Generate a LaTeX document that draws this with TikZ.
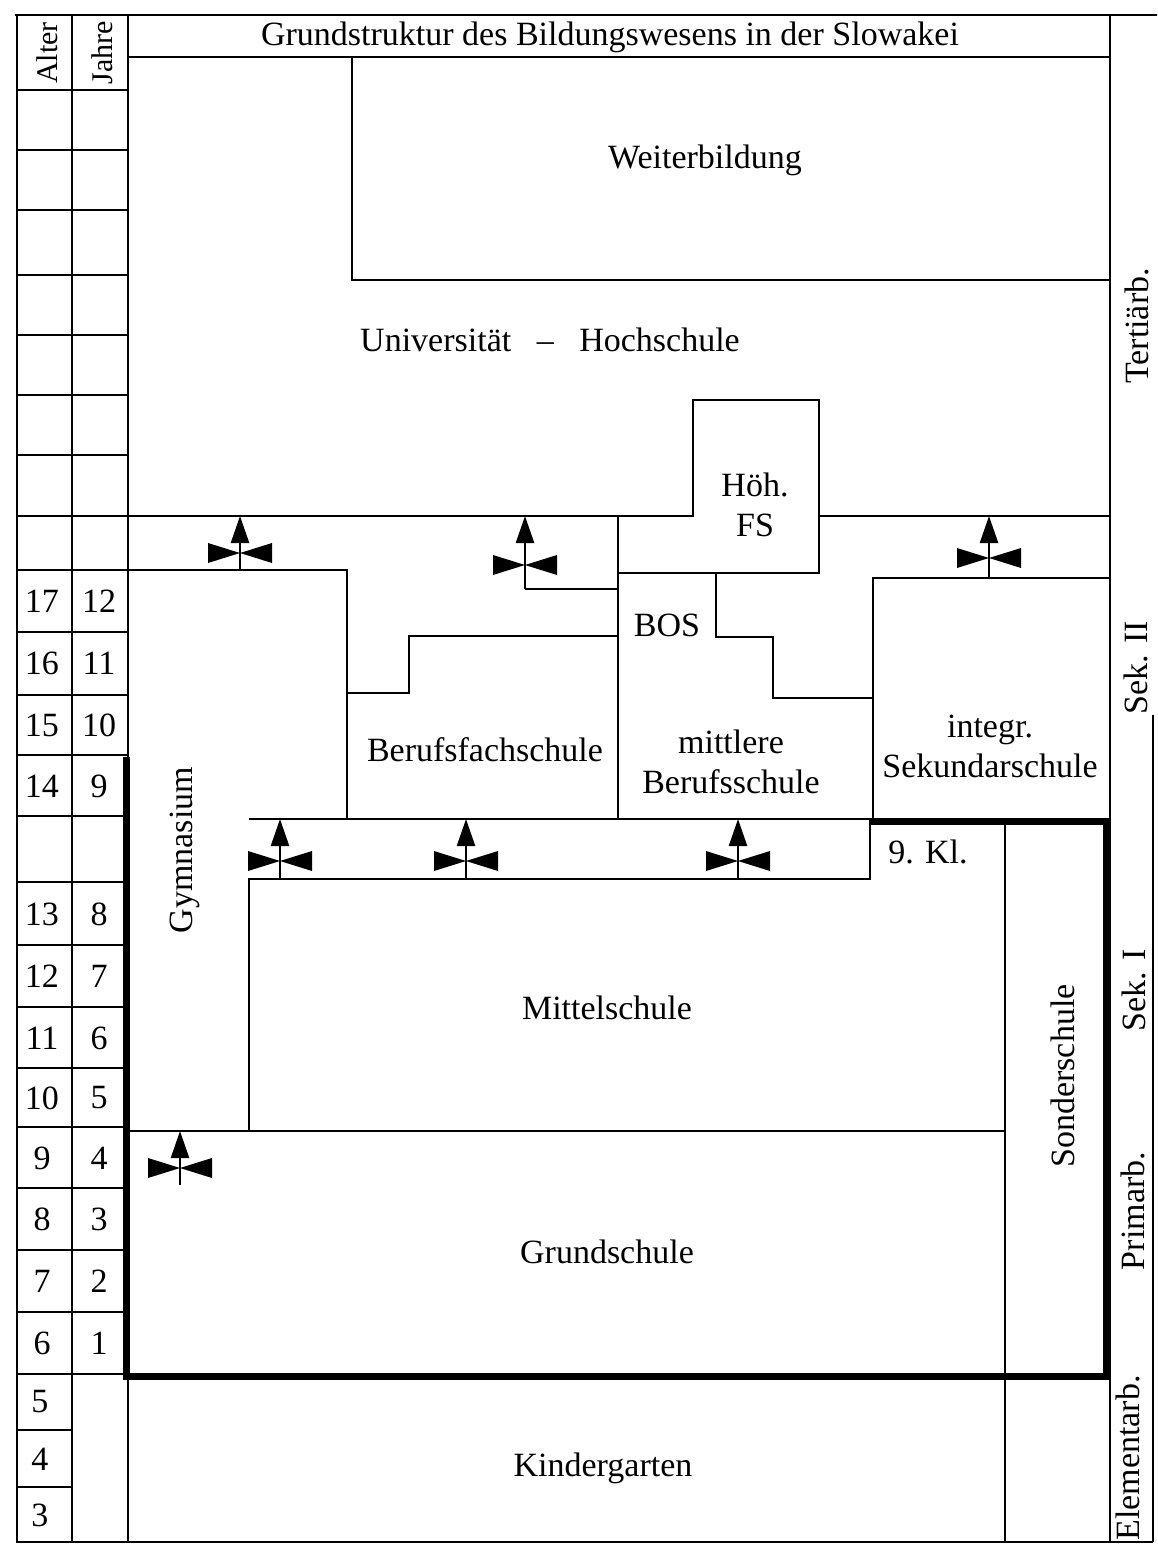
\documentclass[tikz,border=0pt]{standalone}
\usepackage{fontspec}
\setmainfont{Liberation Serif}
\usetikzlibrary{arrows.meta}
\newcommand\diafont{\fontsize{17}{20}\selectfont}

\begin{document}
\begin{tikzpicture}[x=0.5pt,y=-0.5pt,
                    every node/.style={font=\diafont,inner sep=1pt},
                    rule/.style={line width=1.2pt},
                    heavy/.style={line width=3.5pt},
                    up/.style={line width=1.2pt,-{Triangle[length=13.5pt,width=9pt]}},
                    vlabel/.style={rotate=90},
                    bowtie/.pic={\fill (-32,-10) -- (0,0) -- (-32,10) -- cycle
                                       (32,-10) -- (0,0) -- (32,10) -- cycle;}]
  \useasboundingbox (0,0) rectangle (1157,1546);

  % frame and the two columns on the left
  \draw[rule] (15,15) -- (1157,15);
  \draw[rule] (17,15) -- (17,1542) -- (1153,1542);
  \draw[rule] (72,15) -- (72,1542);
  \draw[rule] (128,15) -- (128,1542);
  \draw[rule] (1110,15) -- (1110,1542);
  \draw[rule] (1153,715) -- (1153,1542);
  \draw[rule] (128,57) -- (1110,57);
  \foreach \y in {90,150,210,275,335,395,455,516,570,632,695,755,816,882,945,1007,1068,1127,1188,1250,1312,1374}
    \draw[rule] (17,\y) -- (128,\y);
  \foreach \y in {1430,1487}
    \draw[rule] (17,\y) -- (72,\y);

  % tertiary level
  \draw[rule] (352,57) -- (352,280) -- (1110,280);
  \draw[rule] (128,516) -- (693,516) -- (693,400) -- (819,400) -- (819,516) -- (1110,516);
  \draw[rule] (618,516) -- (618,819);
  \draw[rule] (618,573) -- (819,573) -- (819,516);

  % upper secondary
  \draw[rule] (128,570) -- (347,570) -- (347,819);
  \draw[rule] (347,693) -- (409,693) -- (409,636) -- (618,636);
  \draw[rule] (618,589) -- (525,589);
  \draw[rule] (716,573) -- (716,637) -- (773,637) -- (773,698) -- (873,698);
  \draw[rule] (873,819) -- (873,578) -- (1110,578);
  \draw[rule] (249,819) -- (873,819);

  % lower secondary and primary
  \draw[rule] (249,1131) -- (249,879) -- (870,879) -- (870,819);
  \draw[rule] (1005,819) -- (1005,1542);
  \draw[rule] (128,1131) -- (1005,1131);
  \draw[heavy] (126,757) -- (126,1376) -- (1106,1376) -- (1106,821) -- (870,821);

  % transitions
  \foreach \x/\tip/\bow/\foot in {240/516/553/570, 525/516/565/589, 989/516/558/578,
                                  280/819/861/879, 466/819/861/879, 738/819/861/879,
                                  180/1131/1168/1185} {
    \coordinate (f\x) at (\x,\foot);
    \coordinate (t\x) at (\x,\tip);
    \draw[up] (f\x) -- (t\x);
    \pic at (\x,\bow) {bowtie};
  }

  % labels
  \node (title) at (610,37) {Grundstruktur des Bildungswesens in der Slowakei};
  \node[vlabel,font=\fontsize{15}{18}\selectfont] (alter) at (47,53) {Alter};
  \node[vlabel,font=\fontsize{15}{18}\selectfont] (jahre) at (102,53) {Jahre};
  \foreach \a/\j/\y in {17/12/601, 16/11/663, 15/10/725, 14/9/786, 13/8/914, 12/7/976,
                        11/6/1038, 10/5/1098, 9/4/1158, 8/3/1219, 7/2/1281, 6/1/1343} {
    \node (a\a) at (42,\y) {\a};
    \node (j\j) at (99,\y) {\j};
  }
  \foreach \a/\y in {5/1402, 4/1459, 3/1515}
    \node (a\a) at (40,\y) {\a};

  \node (weiter) at (705,160) {Weiterbildung};
  \node (uni) at (550,340) {Universität \enspace– \enspace Hochschule};
  \node[align=center] (hfs) at (755,505) {Höh.\\FS};
  \node (bos) at (667,625) {BOS};
  \node (bfs) at (485,750) {Berufsfachschule};
  \node[align=center] (mbs) at (731,762) {mittlere\\Berufsschule};
  \node[align=center] (iss) at (990,746) {integr.\\Sekundarschule};
  \node (kl9) at (928,852) {9. Kl.};
  \node[vlabel] (gym) at (185,850) {Gymnasium};
  \node (mittel) at (607,1008) {Mittelschule};
  \node[vlabel] (sonder) at (1063,1076) {Sonderschule};
  \node (grund) at (607,1252) {Grundschule};
  \node (kiga) at (603,1468) {Kindergarten};

  % levels
  \node[vlabel] (tert) at (1137,326) {Tertiärb.};
  \node[vlabel] (sek2) at (1136,668) {Sek. II};
  \node[vlabel] (sek1) at (1134,990) {Sek. I};
  \node[vlabel] (prim) at (1133,1211) {Primarb.};
  \node[vlabel] (elem) at (1128,1458) {Elementarb.};
\end{tikzpicture}
\end{document}
